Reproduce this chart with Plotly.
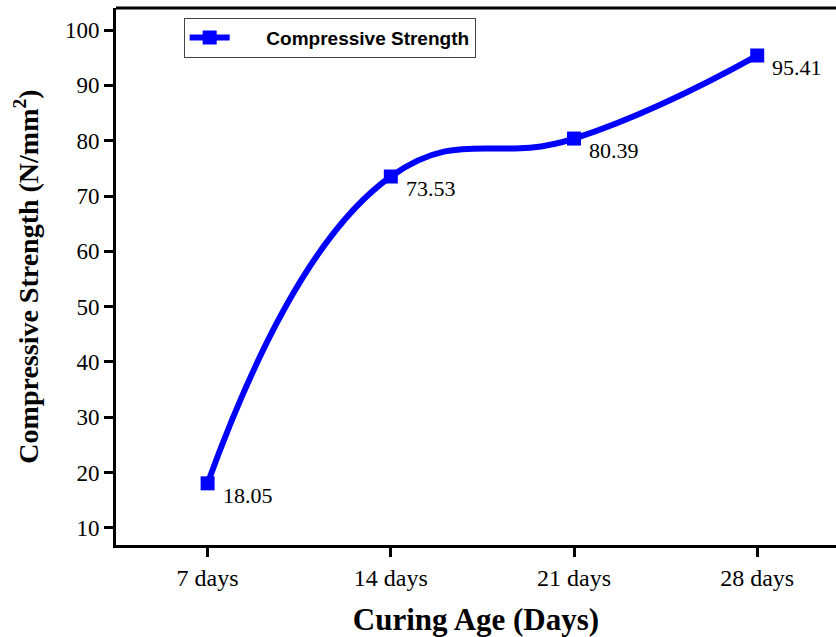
import plotly.graph_objects as go

categories = ["7 days", "14 days", "21 days", "28 days"]
strength = [18.05, 73.53, 80.39, 95.41]
labels = ["18.05", "73.53", "80.39", "95.41"]
y_ticks = [10, 20, 30, 40, 50, 60, 70, 80, 90, 100]

x_idx = list(range(len(categories)))

fig = go.Figure()
fig.add_trace(go.Scatter(
    x=x_idx, y=strength, mode="lines+markers",
    name="      <b>Compressive Strength</b>",
    line=dict(color="#0000FF", width=6, shape="spline", smoothing=1.3),
    marker=dict(symbol="square", size=14, color="#0000FF"),
    cliponaxis=False,
))

for xi, yv, t in zip(x_idx, strength, labels):
    fig.add_annotation(x=xi, y=yv, text=t, showarrow=False,
                       xanchor="left", yanchor="middle", xshift=13, yshift=-12,
                       font=dict(family="Liberation Serif", size=22, color="black"))

# top border line
fig.add_shape(type="line", xref="paper", yref="paper", x0=0, x1=1, y0=1, y1=1,
              line=dict(color="black", width=3))

fig.update_layout(
    width=836, height=637,
    margin=dict(l=116, r=0, t=8, b=92),
    paper_bgcolor="white", plot_bgcolor="white",
    showlegend=True,
    legend=dict(x=0.094, y=0.982, xanchor="left", yanchor="top",
                bordercolor="#444", borderwidth=1, bgcolor="white",
                itemwidth=40, tracegroupgap=0,
                font=dict(family="Liberation Sans", size=19, color="black")),
    xaxis=dict(
        range=[-0.5, 3.43], tickmode="array", tickvals=x_idx, ticktext=categories,
        showline=True, linecolor="black", linewidth=3, showgrid=False, zeroline=False,
        ticks="outside", ticklen=9, tickwidth=3, tickcolor="black",
        tickfont=dict(family="Liberation Serif", size=24, color="black"),
        title=dict(text="<b>Curing Age (Days)</b>", standoff=19,
                   font=dict(family="Liberation Serif", size=31, color="black")),
    ),
    yaxis=dict(
        range=[6.9, 104], tickmode="array", tickvals=y_ticks,
        showline=True, linecolor="black", linewidth=3, showgrid=False, zeroline=False,
        ticks="outside", ticklen=9, tickwidth=3, tickcolor="black",
        tickfont=dict(family="Liberation Serif", size=23, color="black"),
        title=dict(text="<b>Compressive Strength (N/mm<sup>2</sup>)</b>", standoff=19,
                   font=dict(family="Liberation Serif", size=28, color="black")),
    ),
)

fig.write_html("out.html", config={"displayModeBar": False},
               post_script="document.body.style.margin='0';")
